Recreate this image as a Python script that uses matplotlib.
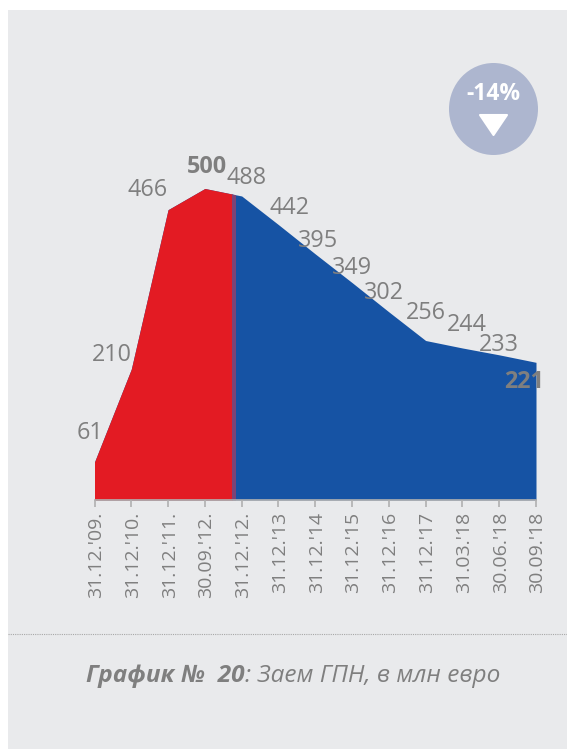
import matplotlib
matplotlib.use("Agg")
import matplotlib.pyplot as plt
import matplotlib.patches as patches
from matplotlib.transforms import ScaledTranslation

dates = ["31.12.'09.", "31.12.'10.", "31.12.'11.", "30.09.'12.", "31.12.'12.",
         "31.12.'13", "31.12.'14", "31.12.'15", "31.12.'16", "31.12.'17",
         "31.03.'18", "30.06.'18", "30.09.'18"]
values = [61, 210, 466, 500, 488, 442, 395, 349, 302, 256, 244, 233, 221]
bold_points = [3, 12]

# pixel offsets of the value labels from their points
label_dx = [-4.5, -19, -21, 2, 5, 11.5, 3, 0, -5, 0, 4.5, 0, -12]
label_dy = [29, 14, 20, 21.5, 18, 17, 13, 15, 19, 27.5, 23, 10, -20]

W, H = 567, 749
GREY = "#7f7f7f"

plt.rcParams['font.family'] = ['Open Sans', 'DejaVu Sans']

fig = plt.figure(figsize=(W / 100, H / 100), dpi=100, facecolor="white")

# серый фон карточки
panel = patches.Rectangle((8 / W, 0), (W - 8) / W, 1 - 10 / H, zorder=-1,
                          transform=fig.transFigure, facecolor="#e9eaec", edgecolor="none")
fig.add_artist(panel)

ax = fig.add_axes([94.5 / W, 1 - 500 / H, 441.5 / W, 311.5 / H])
ax.patch.set_visible(False)
x = list(range(len(values)))

# 1. area: blue under everything, red and the seam clipped to the left part
ax.fill_between(x, values, 0, color="#1653a4", linewidth=0)
split = 3.73
seam = 3.81
red = ax.fill_between(x, values, 0, color="#e31b23", linewidth=0)
red.set_clip_path(patches.Rectangle((0, 0), split, 600, transform=ax.transData))
mid = ax.fill_between(x, values, 0, color="#7c4476", linewidth=0)
mid.set_clip_path(patches.Rectangle((split, 0), seam - split, 600, transform=ax.transData))

ax.set_xlim(0, 12)
ax.set_ylim(0, 500)

# 2. axis
for side in ["top", "left", "right"]:
    ax.spines[side].set_visible(False)
ax.spines["bottom"].set_color("#b0b0b0")
ax.spines["bottom"].set_linewidth(1.2)
ax.set_yticks([])
ax.set_xticks(x)
ax.set_xticklabels(dates, rotation=90, fontsize=14, color=GREY)
ax.tick_params(axis="x", length=5, width=1.2, color="#b0b0b0", pad=3.5)
# tick labels sit a little to the right of their ticks
shift = ScaledTranslation(1.5 / 100, 0, fig.dpi_scale_trans)
for lab in ax.get_xticklabels():
    lab.set_transform(lab.get_transform() + shift)

# 3. value labels
for i, v in enumerate(values):
    ax.annotate(str(v), (i, v), xytext=(label_dx[i] * 0.72, label_dy[i] * 0.72),
                textcoords="offset points", ha="center", va="center",
                fontsize=16.8, color=GREY, annotation_clip=False,
                fontweight="bold" if i in bold_points else "normal")

# 4. badge
badge = patches.Ellipse((493.5 / W, 1 - 109 / H), 89 / W, 92 / H, transform=fig.transFigure,
                        facecolor="#adb6cf", edgecolor="none")
fig.add_artist(badge)
fig.text(493.5 / W, 1 - 94 / H, "-14%", color="white", fontsize=16.5, fontweight="bold",
         ha="center", va="center")
arrow = patches.Polygon([(480 / W, 1 - 115 / H), (507 / W, 1 - 115 / H), (493.5 / W, 1 - 135 / H)],
                        closed=True, transform=fig.transFigure, facecolor="white",
                        edgecolor="white", linewidth=1.5, joinstyle="round")
fig.add_artist(arrow)

# 5. separator and caption
fig.add_artist(plt.Line2D([8 / W, 1], [1 - 634 / H, 1 - 634 / H], transform=fig.transFigure,
                          color="#a8a8a8", linewidth=0.8, linestyle=(0, (1, 1))))
fig.text(86 / W, 1 - 676 / H, "График №  20", fontsize=17.6, fontweight="bold", style="italic",
         color=GREY, ha="left", va="center")
fig.text(245 / W, 1 - 676 / H, ": Заем ГПН, в млн евро", fontsize=17.6, style="italic",
         color=GREY, ha="left", va="center")

fig.savefig("out.png", dpi=100)
